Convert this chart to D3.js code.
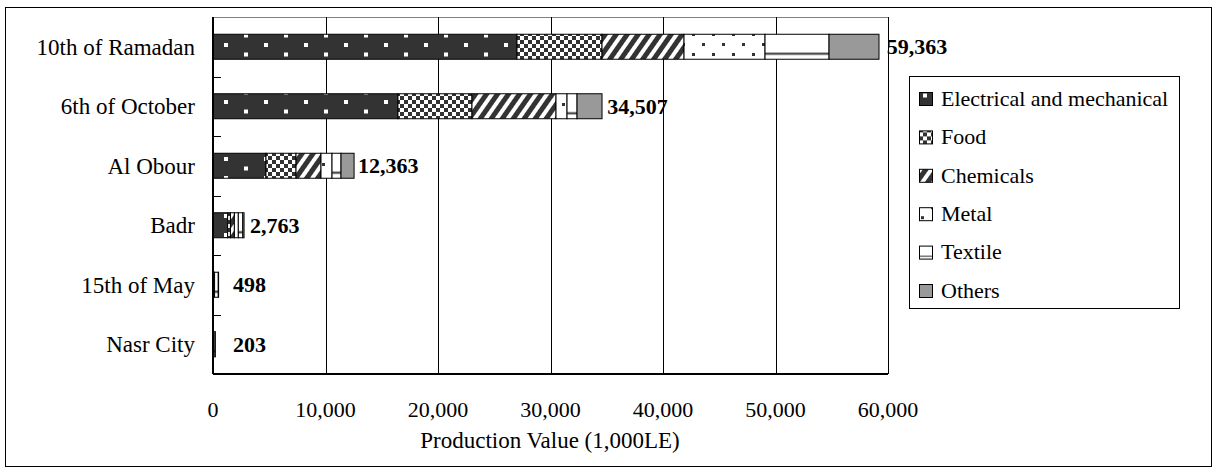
<!DOCTYPE html>
<html>
<head>
<meta charset="utf-8">
<script src="https://cdn.jsdelivr.net/npm/d3@7"></script>
<style>
  body { margin: 0; background: #fff; }
  svg text { font-family: "Liberation Serif", Tinos, "Times New Roman", Times, serif; fill: #000; }
</style>
</head>
<body>
<div id="chart"></div>
<script>
// categories, top to bottom
var estates = ["10th of Ramadan", "6th of October", "Al Obour", "Badr", "15th of May", "Nasr City"];
var sectors = ["Electrical and mechanical", "Food", "Chemicals", "Metal", "Textile", "Others"];

// production value per sector (1,000LE)
var electrical = [27020, 16440, 4710, 1300, 40, 20];
var food       = [7560, 6580, 2670, 250, 20, 10];
var chemicals  = [7290, 7470, 2220, 350, 20, 10];
var metal      = [7200, 980, 980, 350, 60, 20];
var textile    = [5690, 890, 800, 400, 330, 120];
var others     = [4440, 2220, 1160, 110, 28, 23];
var totals     = [59363, 34507, 12363, 2763, 498, 203];

var xTicks = [0, 10000, 20000, 30000, 40000, 50000, 60000];

var width = 1217, height = 473;
var plot = {left: 213, right: 888, top: 17, bottom: 374};
var font = "'Liberation Serif', Tinos, 'Times New Roman', serif";

var svg = d3.select("#chart").append("svg")
    .attr("width", width)
    .attr("height", height);

// patterns used for the sectors
var defs = svg.append("defs");

var pElec = defs.append("pattern").attr("id", "p-elec")
    .attr("patternUnits", "userSpaceOnUse").attr("width", 40).attr("height", 19);
pElec.append("rect").attr("width", 40).attr("height", 19).attr("fill", "#333");
pElec.append("rect").attr("x", 24).attr("y", 5).attr("width", 4).attr("height", 4).attr("fill", "#fff");
pElec.append("rect").attr("x", 4).attr("y", 14.5).attr("width", 4).attr("height", 4).attr("fill", "#fff");

var pFood = defs.append("pattern").attr("id", "p-food")
    .attr("patternUnits", "userSpaceOnUse").attr("width", 8).attr("height", 8);
pFood.append("rect").attr("width", 8).attr("height", 8).attr("fill", "#fff");
pFood.append("rect").attr("width", 4).attr("height", 4).attr("fill", "#333");
pFood.append("rect").attr("x", 4).attr("y", 4).attr("width", 4).attr("height", 4).attr("fill", "#333");

var pChem = defs.append("pattern").attr("id", "p-chem")
    .attr("patternUnits", "userSpaceOnUse").attr("width", 9).attr("height", 9)
    .attr("patternTransform", "rotate(35)");
pChem.append("rect").attr("width", 9).attr("height", 9).attr("fill", "#fff");
pChem.append("rect").attr("width", 5).attr("height", 9).attr("fill", "#333");

var pMetal = defs.append("pattern").attr("id", "p-metal")
    .attr("patternUnits", "userSpaceOnUse").attr("width", 20).attr("height", 20);
pMetal.append("rect").attr("width", 20).attr("height", 20).attr("fill", "#fff");
pMetal.append("rect").attr("x", 2).attr("y", 3).attr("width", 3).attr("height", 3).attr("fill", "#333");
pMetal.append("rect").attr("x", 12).attr("y", 13).attr("width", 3).attr("height", 3).attr("fill", "#333");

var pText = defs.append("pattern").attr("id", "p-textile")
    .attr("patternUnits", "objectBoundingBox").attr("patternContentUnits", "objectBoundingBox")
    .attr("width", 1).attr("height", 1);
pText.append("rect").attr("width", 1).attr("height", 1).attr("fill", "#fff");
pText.append("rect").attr("y", 0.74).attr("width", 1).attr("height", 0.08).attr("fill", "#333");

var fills = ["url(#p-elec)", "url(#p-food)", "url(#p-chem)", "url(#p-metal)", "url(#p-textile)", "#999"];

// outer chart border
svg.append("rect")
    .attr("x", 5.5).attr("y", 7.5)
    .attr("width", 1206).attr("height", 459)
    .attr("fill", "none").attr("stroke", "#000").attr("stroke-width", 1);

var x = d3.scaleLinear().domain([0, 60000]).range([plot.left, plot.right]);
var y = d3.scaleBand().domain(estates).range([plot.top, plot.bottom])
    .paddingInner(0.58).paddingOuter(0.29);

// plot area top edge
svg.append("line")
    .attr("x1", plot.left).attr("x2", plot.right)
    .attr("y1", plot.top + 0.5).attr("y2", plot.top + 0.5)
    .attr("stroke", "#808080");

// vertical gridlines
svg.append("g").selectAll("line")
    .data(xTicks.slice(1))
    .enter().append("line")
    .attr("x1", function(d) { return Math.round(x(d)) + 0.5; })
    .attr("x2", function(d) { return Math.round(x(d)) + 0.5; })
    .attr("y1", plot.top).attr("y2", plot.bottom)
    .attr("stroke", "#000").attr("stroke-width", 1);

// build the stacked rows
var rows = estates.map(function(name, i) {
    return {
        estate: name, total: totals[i],
        s0: electrical[i], s1: food[i], s2: chemicals[i],
        s3: metal[i], s4: textile[i], s5: others[i]
    };
});
var stack = d3.stack().keys(["s0", "s1", "s2", "s3", "s4", "s5"]);
var series = stack(rows);

svg.append("g").selectAll("g")
    .data(series)
    .enter().append("g")
    .attr("fill", function(d, i) { return fills[i]; })
    .selectAll("rect")
    .data(function(d) { return d; })
    .enter().append("rect")
    .attr("x", function(d) { return x(d[0]); })
    .attr("y", function(d) { return y(d.data.estate); })
    .attr("width", function(d) { return Math.max(0, x(d[1]) - x(d[0])); })
    .attr("height", y.bandwidth())
    .attr("stroke", "#000").attr("stroke-width", 1);

// total labels
svg.append("g").selectAll("text")
    .data(rows)
    .enter().append("text")
    .attr("x", function(d) { return Math.max(x(d.total) + 6, x(0) + 20); })
    .attr("y", function(d) { return y(d.estate) + y.bandwidth() / 2; })
    .attr("dy", "0.35em")
    .attr("font-family", font)
    .attr("font-size", 22).attr("font-weight", "bold")
    .text(function(d) { return d3.format(",")(d.total); });

// axes lines
svg.append("line")
    .attr("x1", plot.left).attr("x2", plot.right)
    .attr("y1", plot.bottom).attr("y2", plot.bottom)
    .attr("stroke", "#000").attr("stroke-width", 2);
svg.append("line")
    .attr("x1", plot.left).attr("x2", plot.left)
    .attr("y1", plot.top).attr("y2", plot.bottom)
    .attr("stroke", "#000").attr("stroke-width", 2);

// inside ticks on the category axis, at band edges
var step = y.step();
svg.append("g").selectAll("line")
    .data(d3.range(1, estates.length))
    .enter().append("line")
    .attr("x1", plot.left).attr("x2", plot.left + 8)
    .attr("y1", function(d) { return Math.round(plot.top + d * step) + 0.5; })
    .attr("y2", function(d) { return Math.round(plot.top + d * step) + 0.5; })
    .attr("stroke", "#000");

// category labels
svg.append("g").selectAll("text")
    .data(estates)
    .enter().append("text")
    .attr("x", 195)
    .attr("y", function(d) { return y(d) + y.bandwidth() / 2; })
    .attr("dy", "0.35em")
    .attr("text-anchor", "end")
    .attr("font-family", font)
    .attr("font-size", 23)
    .text(function(d) { return d; });

// value tick labels
svg.append("g").selectAll("text")
    .data(xTicks)
    .enter().append("text")
    .attr("x", function(d) { return x(d); })
    .attr("y", 409)
    .attr("dy", "0.35em")
    .attr("text-anchor", "middle")
    .attr("font-family", font)
    .attr("font-size", 22)
    .text(function(d) { return d3.format(",")(d); });

svg.append("text")
    .attr("x", 550).attr("y", 440)
    .attr("dy", "0.35em")
    .attr("text-anchor", "middle")
    .attr("font-family", font)
    .attr("font-size", 23)
    .text("Production Value (1,000LE)");

// legend
var legend = svg.append("g");
legend.append("rect")
    .attr("x", 909.5).attr("y", 76.5)
    .attr("width", 270).attr("height", 232)
    .attr("fill", "#fff").attr("stroke", "#000");

var item = legend.selectAll("g")
    .data(sectors)
    .enter().append("g")
    .attr("transform", function(d, i) { return "translate(919," + (98 + i * 38.4) + ")"; });

item.append("rect")
    .attr("x", 0.5).attr("y", -5.5)
    .attr("width", 13).attr("height", 13)
    .attr("fill", function(d, i) { return fills[i]; })
    .attr("stroke", "#000").attr("stroke-width", 1);

item.append("text")
    .attr("x", 22).attr("y", 0)
    .attr("dy", "0.35em")
    .attr("font-family", font)
    .attr("font-size", 22)
    .text(function(d) { return d; });
</script>
</body>
</html>
